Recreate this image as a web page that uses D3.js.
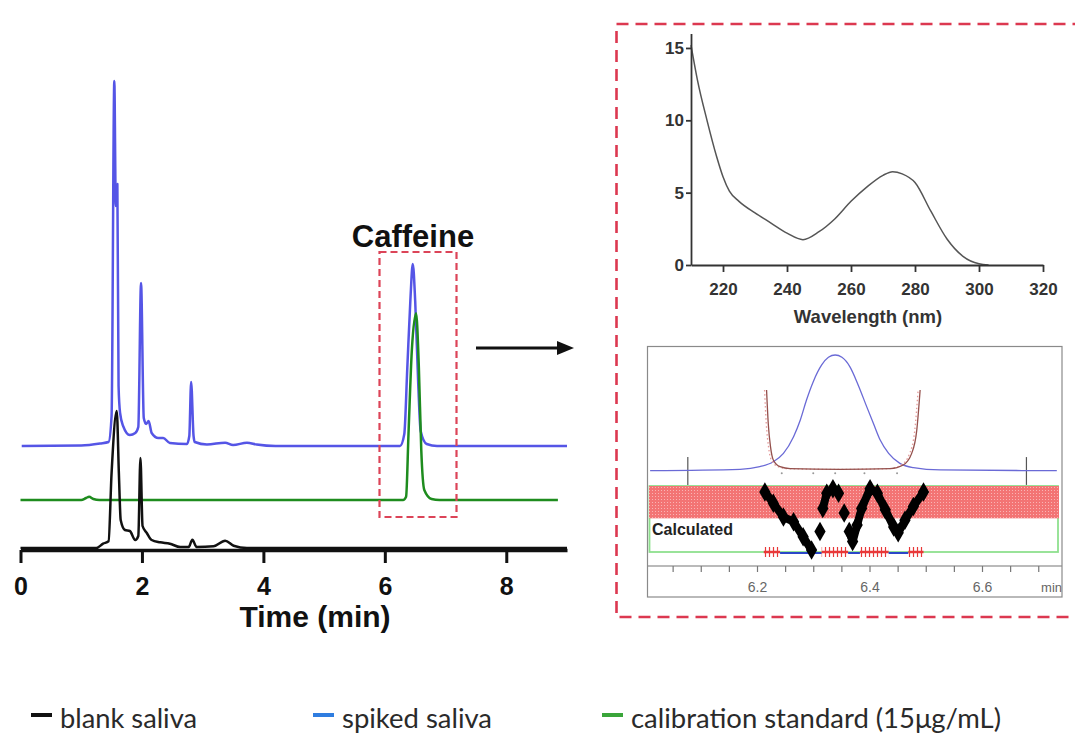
<!DOCTYPE html>
<html>
<head>
<meta charset="utf-8">
<script src="https://cdn.jsdelivr.net/npm/d3@7"></script>
<style>
  body { margin: 0; background: #fff; }
  svg { display: block; font-family: "Liberation Sans", Arial, sans-serif; }
</style>
</head>
<body>
<div id="chart"></div>
<script>
// ---- chromatogram traces [time (min), signal] ----
var blankTrace = [[0,0],[1.25,0],[1.36,4.3],[1.45,6.7],[1.50,75],[1.585,137],[1.62,75],[1.65,28],[1.72,18],[1.80,17],[1.89,8],[1.94,12],[1.975,90],[2.01,22],[2.08,15],[2.16,8],[2.30,5.7],[2.46,4.3],[2.63,1],[2.77,1],[2.83,8.3],[2.90,1],[3.18,1.7],[3.37,7.3],[3.51,2.3],[3.73,0],[9.0,0]];
var spikedTrace = [[0.02,0],[1.0,0.5],[1.31,2.5],[1.45,4],[1.50,30],[1.545,365],[1.57,240],[1.595,262],[1.615,60],[1.64,33],[1.69,20],[1.80,11],[1.89,13],[1.94,19],[1.985,163],[2.03,28],[2.07,22],[2.11,25],[2.16,13],[2.27,8],[2.35,8],[2.46,3],[2.74,2],[2.78,10],[2.81,64],[2.85,10],[2.87,4],[3.07,1.5],[3.37,3.3],[3.5,1],[3.73,3.3],[3.89,1.5],[4.2,0],[6.25,0],[6.32,11.7],[6.37,78],[6.42,145],[6.46,182],[6.50,145],[6.55,62],[6.59,15],[6.69,2],[6.86,0],[9.0,0]];
var calibTrace = [[0.0,0],[1.0,0],[1.08,2],[1.13,3.3],[1.2,1],[1.3,0],[6.30,0],[6.35,3.3],[6.39,66.7],[6.445,150],[6.515,186.7],[6.56,133],[6.60,50],[6.65,10],[6.77,1],[6.9,0],[8.85,0]];
var traceOffsets = { blank: 0, calib: 48, spiked: 102 };
var timeTicks = [0, 2, 4, 6, 8];

// ---- UV spectrum ----
var uvWavelength = [210,212,215,218,220,222,225,230,235,240,245,250,255,260,265,270,273,276,280,285,290,295,300,303];
var uvAbs = [15.2,12.8,10.0,7.5,6.1,5.1,4.4,3.6,2.9,2.2,1.75,2.3,3.2,4.4,5.4,6.2,6.45,6.3,5.7,3.7,1.8,0.6,0.08,0];
var uvTicksX = [220, 240, 260, 280, 300, 320];
var uvTicksY = [0, 5, 10, 15];

// ---- peak purity plot ----
var peakTime = [6.010,6.170,6.205,6.229,6.247,6.265,6.277,6.288,6.300,6.315,6.327,6.339,6.351,6.365,6.380,6.395,6.407,6.419,6.434,6.454,6.478,6.526,6.733];
var peakValue = [0.3,1.4,3.7,8.0,15.2,29.6,44,61.2,77,91.4,98,100,98,90,74,55.5,41,26.7,15.2,6.6,2.9,0.9,0.3];
var thresholdTime = [6.217,6.220,6.224,6.229,6.241,6.259,6.348,6.437,6.460,6.475,6.484,6.490];
var thresholdValue = [69.8,41,21,9.5,3.7,2,1.4,2,5.2,15.2,35,69.8];
var purityTime = [6.214,6.229,6.247,6.265,6.282,6.297,6.312,6.317,6.324,6.335,6.345,6.355,6.364,6.370,6.378,6.386,6.401,6.414,6.428,6.443,6.451,6.463,6.478,6.496];
var purityValue = [9.1,7.4,5.3,4.6,2.3,0.3,3.1,6.6,8.9,9.6,8.9,5.9,3.1,1.6,4.1,6.6,9.6,8.9,6.4,3.8,2.9,4.8,6.9,9.1];
var purityGroup = [1,1,1,1,1,1,2,3,3,3,3,4,5,5,5,5,5,5,5,5,5,5,5,5];
var purityBand = [5.1, 10];
var integrationMarks = [6.077, 6.679];
var sampleMarks = [6.244, 6.300, 6.339, 6.391, 6.449];
var flagStart = [6.212, 6.241, 6.315, 6.362, 6.383, 6.434, 6.469];
var flagEnd = [6.241, 6.315, 6.362, 6.383, 6.434, 6.469, 6.496];
var flagFail = [true, false, true, false, true, false, true];
var purityTicks = [6.2, 6.4, 6.6];

// ---- legend ----
var legendLabels = ['blank saliva', 'spiked saliva', 'calibration standard (15μg/mL)'];
var legendColors = ['#111111', '#2f7de0', '#3aa53a'];

var svg = d3.select('#chart').append('svg')
  .attr('width', 1075).attr('height', 733);
svg.append('rect').attr('width', 1075).attr('height', 733).attr('fill', '#fff');

var defs = svg.append('defs');
var dots = defs.append('pattern').attr('id', 'dots')
  .attr('width', 3).attr('height', 3).attr('patternUnits', 'userSpaceOnUse');
dots.append('rect').attr('width', 3).attr('height', 3).attr('fill', '#f37474');
dots.append('rect').attr('x', 1).attr('y', 1).attr('width', 1).attr('height', 1).attr('fill', '#f9b4b4');
var flagPat = defs.append('pattern').attr('id', 'flagpat')
  .attr('width', 4).attr('height', 10).attr('y', 547).attr('patternUnits', 'userSpaceOnUse');
flagPat.append('line').attr('x1', 1.5).attr('x2', 1.5).attr('y1', 0).attr('y2', 10)
  .attr('stroke', '#e83838').attr('stroke-width', 1.2);
flagPat.append('line').attr('x1', 0).attr('x2', 4).attr('y1', 5).attr('y2', 5)
  .attr('stroke', '#e83838').attr('stroke-width', 2.5);

// ================= chromatogram =================
var xTime = d3.scaleLinear().domain([0, 9]).range([20.5, 567]);
var ySig = d3.scaleLinear().domain([0, 500]).range([548, 48]);

var traces = [
  { data: spikedTrace, offset: traceOffsets.spiked, color: '#5555e6', width: 2.5 },
  { data: calibTrace, offset: traceOffsets.calib, color: '#1e8c1e', width: 2.5 },
  { data: blankTrace, offset: traceOffsets.blank, color: '#111', width: 2.5 }
];
traces.forEach(function(tr) {
  var line = d3.line().curve(d3.curveMonotoneX)
    .x(function(d) { return xTime(d[0]); })
    .y(function(d) { return ySig(d[1] + tr.offset); });
  svg.append('path').datum(tr.data)
    .attr('d', line)
    .attr('fill', 'none')
    .attr('stroke', tr.color)
    .attr('stroke-width', tr.width)
    .attr('stroke-linejoin', 'round');
});

var xAxis = svg.append('g')
  .attr('transform', 'translate(0,550)')
  .call(d3.axisBottom(xTime).tickValues(timeTicks).tickSize(13).tickSizeOuter(0).tickPadding(14));
xAxis.select('.domain').attr('stroke', '#111').attr('stroke-width', 3.5);
xAxis.selectAll('.tick line').attr('stroke', '#111').attr('stroke-width', 3);
xAxis.selectAll('.tick text')
  .attr('fill', '#111').style('font-size', '25px').style('font-weight', 'bold')
  .style('font-family', '"Liberation Sans", Arial, sans-serif');

svg.append('text').attr('x', 315).attr('y', 627)
  .attr('text-anchor', 'middle').style('font-size', '30px').style('font-weight', 'bold')
  .attr('fill', '#111').text('Time (min)');

svg.append('text').attr('x', 413).attr('y', 247)
  .attr('text-anchor', 'middle').style('font-size', '31px').style('font-weight', 'bold')
  .attr('fill', '#111').text('Caffeine');

// caffeine window
svg.append('rect')
  .attr('x', 379.5).attr('y', 252).attr('width', 77).attr('height', 265)
  .attr('fill', 'none').attr('stroke', '#dc4458').attr('stroke-width', 2.2)
  .attr('stroke-dasharray', '7,4');

// arrow
svg.append('line').attr('x1', 476).attr('x2', 560).attr('y1', 348).attr('y2', 348)
  .attr('stroke', '#111').attr('stroke-width', 3);
svg.append('polygon').attr('points', '574,348 557,341 557,355').attr('fill', '#111');

// big dashed frame (right side runs off the picture)
svg.append('rect')
  .attr('x', 616.5).attr('y', 24).attr('width', 490).attr('height', 593)
  .attr('fill', 'none').attr('stroke', '#dc3850').attr('stroke-width', 2.6)
  .attr('stroke-dasharray', '12,7');

// ================= UV spectrum =================
var xUV = d3.scaleLinear().domain([210, 320]).range([691, 1043]);
var yUV = d3.scaleLinear().domain([0, 16]).range([265, 33.5]);

var uvLine = d3.line().curve(d3.curveMonotoneX)
  .x(function(d, i) { return xUV(uvWavelength[i]); })
  .y(function(d) { return yUV(d); });
svg.append('path').datum(uvAbs)
  .attr('d', uvLine).attr('fill', 'none')
  .attr('stroke', '#555').attr('stroke-width', 1.5);

var uvx = svg.append('g').attr('transform', 'translate(0,265)')
  .call(d3.axisBottom(xUV).tickValues(uvTicksX).tickSize(7).tickSizeOuter(0).tickPadding(11));
var uvy = svg.append('g').attr('transform', 'translate(691,0)')
  .call(d3.axisLeft(yUV).tickValues(uvTicksY).tickSize(5).tickSizeOuter(0).tickPadding(2));
[uvx, uvy].forEach(function(ax) {
  ax.select('.domain').attr('stroke', '#333').attr('stroke-width', 1.8);
  ax.selectAll('.tick line').attr('stroke', '#333').attr('stroke-width', 1.8);
  ax.selectAll('.tick text').attr('fill', '#333')
    .style('font-size', '17px').style('font-weight', 'bold')
    .style('font-family', '"Liberation Sans", Arial, sans-serif');
});
svg.append('text').attr('x', 868).attr('y', 323)
  .attr('text-anchor', 'middle').style('font-size', '18.5px').style('font-weight', 'bold')
  .attr('fill', '#333').text('Wavelength (nm)');

// ================= peak purity plot =================
var xP = d3.scaleLinear().domain([6.2, 6.6]).range([757, 982]);
var yPk = d3.scaleLinear().domain([0, 100]).range([471, 355]);
var yPur = d3.scaleLinear().domain([0, 10]).range([552, 486]);

defs.append('clipPath').attr('id', 'pclip')
  .append('rect').attr('x', 647).attr('y', 346).attr('width', 415).attr('height', 220);

var pg = svg.append('g').attr('clip-path', 'url(#pclip)');

// green "Calculated" box and red band
pg.append('rect').attr('x', 649.5).attr('y', yPur(purityBand[1]))
  .attr('width', 408.5).attr('height', yPur(0) - yPur(purityBand[1]))
  .attr('fill', 'none').attr('stroke', '#8ee08e').attr('stroke-width', 1.8);
pg.append('rect').attr('x', 649).attr('y', yPur(purityBand[1]))
  .attr('width', 410).attr('height', yPur(purityBand[0]) - yPur(purityBand[1]))
  .attr('fill', 'url(#dots)');

pg.append('text').attr('x', 652).attr('y', 535)
  .style('font-size', '16px').style('font-weight', 'bold').attr('fill', '#222')
  .text('Calculated');

// integration marks
integrationMarks.forEach(function(t) {
  pg.append('line').attr('x1', xP(t)).attr('x2', xP(t))
    .attr('y1', yPk(12)).attr('y2', yPk(-12))
    .attr('stroke', '#555').attr('stroke-width', 1.2);
});

// blue chromatogram peak
var pkLine = d3.line().curve(d3.curveMonotoneX)
  .x(function(d, i) { return xP(peakTime[i]); })
  .y(function(d) { return yPk(d); });
pg.append('path').datum(peakValue).attr('d', pkLine)
  .attr('fill', 'none').attr('stroke', '#6a6ad6').attr('stroke-width', 1.3);

// threshold curve
var thLine = d3.line().curve(d3.curveMonotoneX)
  .x(function(d, i) { return xP(thresholdTime[i]); })
  .y(function(d) { return yPk(d); });
pg.append('path').datum(thresholdValue).attr('d', thLine)
  .attr('transform', 'translate(-2,0)')
  .attr('fill', 'none').attr('stroke', '#e59a9a').attr('stroke-width', 1.3)
  .attr('stroke-dasharray', '1.5,2.5');
pg.append('path').datum(thresholdValue).attr('d', thLine)
  .attr('fill', 'none').attr('stroke', '#94504c').attr('stroke-width', 1.3);

sampleMarks.forEach(function(t) {
  pg.append('circle').attr('cx', xP(t)).attr('cy', yPk(-2)).attr('r', 1)
    .attr('fill', '#999');
});

// flag bar along bottom of box
flagStart.forEach(function(s, i) {
  if (flagFail[i]) {
    pg.append('rect').attr('x', xP(s)).attr('y', 547)
      .attr('width', xP(flagEnd[i]) - xP(s)).attr('height', 10)
      .attr('fill', 'url(#flagpat)');
  } else {
    pg.append('line').attr('x1', xP(s)).attr('x2', xP(flagEnd[i]))
      .attr('y1', 553).attr('y2', 553)
      .attr('stroke', '#2b46c8').attr('stroke-width', 2);
  }
});

// purity curve (black diamonds)
var purityPts = purityTime.map(function(t, i) {
  return { t: t, v: purityValue[i], g: purityGroup[i] };
});
var groups = d3.groups(purityPts, function(d) { return d.g; });
var purLine = d3.line()
  .x(function(d) { return xP(d.t); })
  .y(function(d) { return yPur(d.v); });
groups.forEach(function(gr) {
  if (gr[1].length > 1) {
    pg.append('path').datum(gr[1]).attr('d', purLine)
      .attr('fill', 'none').attr('stroke', '#000').attr('stroke-width', 8)
      .attr('stroke-linejoin', 'round').attr('stroke-linecap', 'round');
  }
});
pg.selectAll('path.dia').data(purityPts).enter().append('path')
  .attr('class', 'dia')
  .attr('d', d3.symbol().type(d3.symbolDiamond).size(110))
  .attr('transform', function(d) { return 'translate(' + xP(d.t) + ',' + yPur(d.v) + ')'; })
  .attr('fill', '#000');

// time axis of purity plot
svg.append('line').attr('x1', 647).attr('x2', 1062).attr('y1', 566).attr('y2', 566)
  .attr('stroke', '#777').attr('stroke-width', 1.2);
var minor = svg.append('g').attr('transform', 'translate(0,566)')
  .call(d3.axisBottom(xP).tickValues(d3.range(6.05, 6.71, 0.05)).tickSize(6).tickFormat(''));
minor.select('.domain').remove();
minor.selectAll('.tick line').attr('stroke', '#777').attr('stroke-width', 1.2);
var major = svg.append('g').attr('transform', 'translate(0,566)')
  .call(d3.axisBottom(xP).tickValues(purityTicks).tickSize(0).tickPadding(16)
    .tickFormat(d3.format('.1f')));
major.select('.domain').remove();
major.selectAll('.tick text').attr('fill', '#666').style('font-size', '14px')
  .style('font-family', '"Liberation Sans", Arial, sans-serif');
svg.append('text').attr('x', 1062).attr('y', 592).attr('text-anchor', 'end')
  .style('font-size', '13px').attr('fill', '#666').text('min');

// frame
svg.append('rect').attr('x', 647.5).attr('y', 346.5).attr('width', 414.5).attr('height', 250.5)
  .attr('fill', 'none').attr('stroke', '#8a8a8a').attr('stroke-width', 1.2);

// ================= legend =================
var legendX = [31, 313, 602];
var legendW = [137, 150, 370];
legendLabels.forEach(function(lab, i) {
  svg.append('rect').attr('x', legendX[i]).attr('y', 713)
    .attr('width', 21).attr('height', 4).attr('fill', legendColors[i]);
  svg.append('text').attr('x', legendX[i] + 29).attr('y', 728)
    .attr('textLength', legendW[i]).attr('lengthAdjust', 'spacingAndGlyphs')
    .style('font-family', 'Lato, "Open Sans", sans-serif').style('font-size', '26px')
    .attr('fill', '#2a2a2a').text(lab);
});
</script>
</body>
</html>
